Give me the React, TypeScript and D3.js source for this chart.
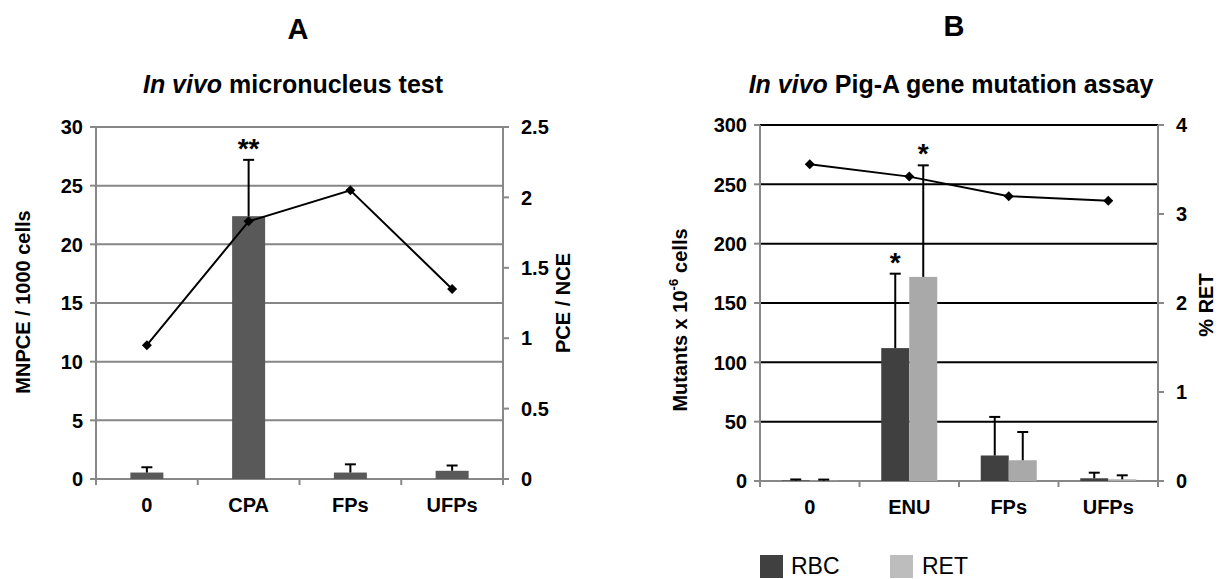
import React from "react";
import * as d3 from "d3";

const FONT = "'Liberation Sans', Arial, Helvetica, sans-serif";

// panel A: micronucleus test
const catsA = ["0", "CPA", "FPs", "UFPs"];
const mnpce = [0.55, 22.4, 0.55, 0.7];
const mnpceErr = [0.45, 4.8, 0.7, 0.45];
const pceNce = [0.95, 1.83, 2.05, 1.35];
const ticksLeftA = [0, 5, 10, 15, 20, 25, 30];
const ticksRightA = [0, 0.5, 1, 1.5, 2, 2.5];

// panel B: Pig-A assay
const catsB = ["0", "ENU", "FPs", "UFPs"];
const rbc = [0.4, 112, 21.5, 2.3];
const rbcErr = [0.9, 62.7, 32.5, 4.7];
const ret = [0.3, 172, 17.5, 1.4];
const retErr = [0.9, 94, 23.8, 3.4];
const pctRet = [3.56, 3.42, 3.2, 3.15];
const ticksLeftB = [0, 50, 100, 150, 200, 250, 300];
const ticksRightB = [0, 1, 2, 3, 4];

const AXIS = "#888888";
const diamond = d3.symbol(d3.symbolSquare, 50)() as string;

function ErrBar({ x, y0, y1 }: { x: number; y0: number; y1: number }) {
  return (
    <g stroke="#000" strokeWidth={2}>
      <line x1={x} x2={x} y1={y0} y2={y1} />
      <line x1={x - 5.5} x2={x + 5.5} y1={y1} y2={y1} />
    </g>
  );
}

function Frame({
  x, yL, yR, leftTicks, rightTicks, cats, gridColor, fmtR,
}: {
  x: d3.ScaleBand<string>;
  yL: d3.ScaleLinear<number, number>;
  yR: d3.ScaleLinear<number, number>;
  leftTicks: number[];
  rightTicks: number[];
  cats: string[];
  gridColor: string;
  fmtR: (v: number) => string;
}) {
  const [x0, x1] = x.range();
  const yb = yL(0);
  return (
    <g fontFamily={FONT} fontWeight="bold" fontSize={20}>
      {leftTicks.slice(1).map((t) => (
        <line key={"g" + t} x1={x0} x2={x1} y1={yL(t)} y2={yL(t)} stroke={gridColor} strokeWidth={2} />
      ))}
      <line x1={x0} x2={x0} y1={yL(leftTicks[leftTicks.length - 1])} y2={yb} stroke={AXIS} strokeWidth={2} />
      <line x1={x1} x2={x1} y1={yR(rightTicks[rightTicks.length - 1])} y2={yb} stroke={AXIS} strokeWidth={2} />
      <line x1={x0} x2={x1} y1={yb} y2={yb} stroke={AXIS} strokeWidth={2} />
      {leftTicks.map((t) => (
        <g key={"l" + t}>
          <line x1={x0 - 6} x2={x0} y1={yL(t)} y2={yL(t)} stroke={AXIS} strokeWidth={2} />
          <text x={x0 - 13} y={yL(t)} dy="0.36em" textAnchor="end">{t}</text>
        </g>
      ))}
      {rightTicks.map((t) => (
        <g key={"r" + t}>
          <line x1={x1} x2={x1 + 6} y1={yR(t)} y2={yR(t)} stroke={AXIS} strokeWidth={2} />
          <text x={x1 + 18} y={yR(t)} dy="0.36em">{fmtR(t)}</text>
        </g>
      ))}
      {[...cats.map((c) => x(c) as number), x1].map((v, i) => (
        <line key={"t" + i} x1={v} x2={v} y1={yb} y2={yb + 6} stroke={AXIS} strokeWidth={2} />
      ))}
      {cats.map((c) => (
        <text key={"c" + c} x={(x(c) as number) + x.bandwidth() / 2} y={yb + 33} textAnchor="middle">{c}</text>
      ))}
    </g>
  );
}

export default function App() {
  // ---- panel A scales
  const xA = d3.scaleBand<string>().domain(catsA).range([96, 503]);
  const yA = d3.scaleLinear().domain([0, 30]).range([479, 127]);
  const yA2 = d3.scaleLinear().domain([0, 2.5]).range([479, 127]);
  const cA = (c: string) => (xA(c) as number) + xA.bandwidth() / 2;
  const barWA = 33;
  const lineA = d3.line<number>().x((_, i) => cA(catsA[i])).y((d) => yA2(d));

  // ---- panel B scales
  const xB = d3.scaleBand<string>().domain(catsB).range([760, 1158]);
  const yB = d3.scaleLinear().domain([0, 300]).range([481, 125]);
  const yB2 = d3.scaleLinear().domain([0, 4]).range([481, 125]);
  const cB = (c: string) => (xB(c) as number) + xB.bandwidth() / 2;
  const barWB = 28;
  const lineB = d3.line<number>().x((_, i) => cB(catsB[i])).y((d) => yB2(d));

  const fmt = d3.format("~g");

  return (
    <svg width={1224} height={579} style={{ position: "absolute", left: 0, top: 0 }}>
      <rect width={1224} height={579} fill="#fff" />

      {/* ============ A ============ */}
      <g fontFamily={FONT} fontWeight="bold" textAnchor="middle">
        <text x={298} y={39} fontSize={29}>A</text>
        <text x={293} y={93} fontSize={25}>
          <tspan fontStyle="italic">In vivo</tspan> micronucleus test
        </text>
      </g>
      <Frame x={xA} yL={yA} yR={yA2} leftTicks={ticksLeftA} rightTicks={ticksRightA} cats={catsA} gridColor="#868686" fmtR={fmt} />
      {catsA.map((c, i) => (
        <rect key={c} x={cA(c) - barWA / 2} width={barWA} y={yA(mnpce[i])} height={yA(0) - yA(mnpce[i])} fill="#595959" />
      ))}
      {catsA.map((c, i) => (
        <ErrBar key={c} x={cA(c)} y0={yA(mnpce[i])} y1={yA(mnpce[i] + mnpceErr[i])} />
      ))}
      <path d={lineA(pceNce) as string} fill="none" stroke="#000" strokeWidth={2} />
      {pceNce.map((v, i) => (
        <path key={i} d={diamond} transform={`translate(${cA(catsA[i])},${yA2(v)}) rotate(45)`} fill="#000" />
      ))}
      <text x={cA("CPA")} y={yA(mnpce[1] + mnpceErr[1]) - 2} textAnchor="middle" fontFamily={FONT} fontWeight="bold" fontSize={28}>**</text>
      <text transform={`translate(30,302) rotate(-90)`} textAnchor="middle" fontFamily={FONT} fontWeight="bold" fontSize={20}>MNPCE / 1000 cells</text>
      <text transform={`translate(570,303) rotate(-90)`} textAnchor="middle" fontFamily={FONT} fontWeight="bold" fontSize={20}>PCE / NCE</text>

      {/* ============ B ============ */}
      <g fontFamily={FONT} fontWeight="bold" textAnchor="middle">
        <text x={954} y={36} fontSize={29}>B</text>
        <text x={951} y={93} fontSize={25}>
          <tspan fontStyle="italic">In vivo</tspan> Pig-A gene mutation assay
        </text>
      </g>
      <Frame x={xB} yL={yB} yR={yB2} leftTicks={ticksLeftB} rightTicks={ticksRightB} cats={catsB} gridColor="#000" fmtR={fmt} />
      {catsB.map((c, i) => (
        <g key={c}>
          <rect x={cB(c) - barWB} width={barWB} y={yB(rbc[i])} height={yB(0) - yB(rbc[i])} fill="#404040" />
          <rect x={cB(c)} width={barWB} y={yB(ret[i])} height={yB(0) - yB(ret[i])} fill="#a9a9a9" />
        </g>
      ))}
      {catsB.map((c, i) => (
        <g key={c}>
          <ErrBar x={cB(c) - barWB / 2} y0={yB(rbc[i])} y1={yB(rbc[i] + rbcErr[i])} />
          <ErrBar x={cB(c) + barWB / 2} y0={yB(ret[i])} y1={yB(ret[i] + retErr[i])} />
        </g>
      ))}
      <path d={lineB(pctRet) as string} fill="none" stroke="#000" strokeWidth={2} />
      {pctRet.map((v, i) => (
        <path key={i} d={diamond} transform={`translate(${cB(catsB[i])},${yB2(v)}) rotate(45)`} fill="#000" />
      ))}
      <g fontFamily={FONT} fontWeight="bold" fontSize={28} textAnchor="middle">
        <text x={cB("ENU") - barWB / 2} y={yB(rbc[1] + rbcErr[1]) - 2}>*</text>
        <text x={cB("ENU") + barWB / 2} y={yB(ret[1] + retErr[1]) - 2}>*</text>
      </g>
      <text transform={`translate(687,320) rotate(-90)`} textAnchor="middle" fontFamily={FONT} fontWeight="bold" fontSize={20}>
        Mutants x 10<tspan fontSize={13} dy={-9}>-6</tspan><tspan dy={9} dx={6}>cells</tspan>
      </text>
      <text transform={`translate(1213,305) rotate(-90)`} textAnchor="middle" fontFamily={FONT} fontWeight="bold" fontSize={20}>% RET</text>

      {/* legend */}
      <g fontFamily={FONT} fontSize={23}>
        <rect x={760} y={555} width={23} height={23} fill="#404040" />
        <text x={791} y={574}>RBC</text>
        <rect x={890} y={555} width={23} height={23} fill="#bdbdbd" />
        <text x={922} y={574}>RET</text>
      </g>
    </svg>
  );
}
